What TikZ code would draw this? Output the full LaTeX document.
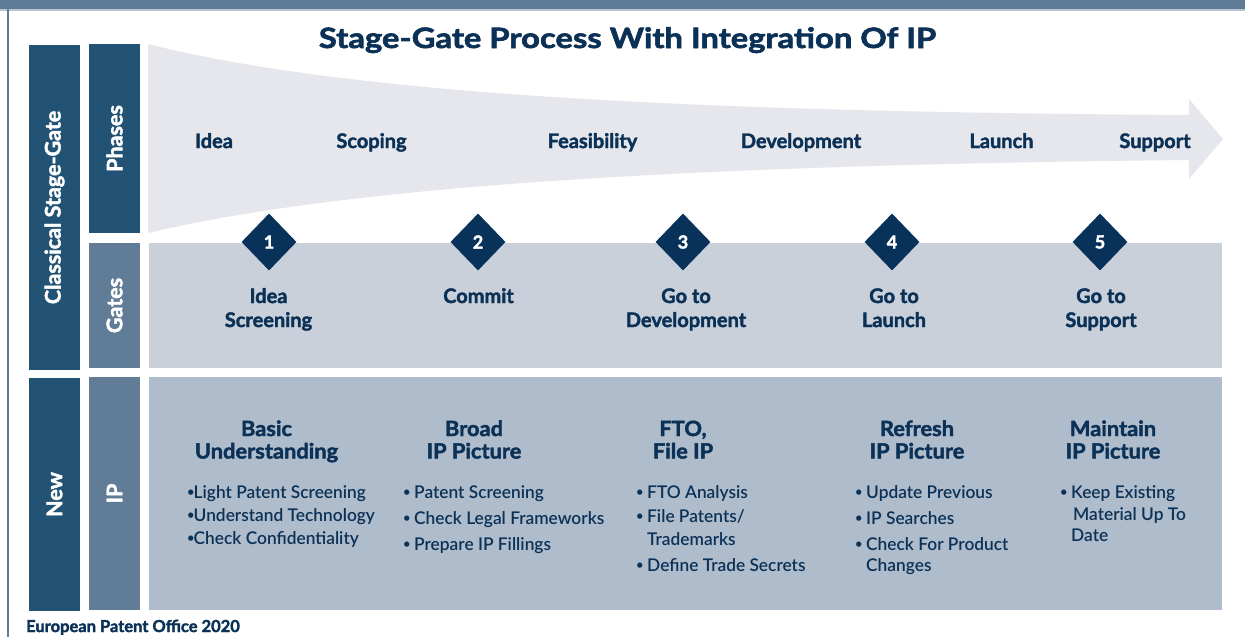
\documentclass[tikz,border=0pt]{standalone}
\usepackage{fontspec}
\setmainfont{Lato}
\newfontfamily\semifont{Lato Semibold}[FakeStretch=0.99]
\newfontfamily\hv{Lato Bold}[FakeBold=2]
\newfontfamily\hvh{Lato Bold}[FakeBold=2, FakeStretch=1.04]
\newfontfamily\hvt{Lato Bold}[FakeBold=2.2, FakeStretch=1.17]
\usetikzlibrary{shapes.geometric}
\definecolor{topbar}{HTML}{5F7B96}
\definecolor{darkbox}{HTML}{235374}
\definecolor{midbox}{HTML}{607C97}
\definecolor{arrowc}{HTML}{E6E7ED}
\definecolor{gateband}{HTML}{C9D0DA}
\definecolor{ipband}{HTML}{AFBCCB}
\definecolor{navy}{HTML}{0B3156}
\definecolor{dia}{HTML}{08325A}
\definecolor{lightline}{HTML}{B8C4D2}
\newcommand\twoc[2]{\begin{tabular}[t]{@{}c@{}}#1\\#2\end{tabular}}
\newcommand\dotb{\raisebox{1.6pt}{\fontsize{13}{13}\selectfont•}}
\newcommand\bl{\makebox[11pt][l]{\dotb}}
\newcommand\blt{\makebox[6.5pt][l]{\dotb}}
\newcommand\ind{\hspace*{11pt}}
\begin{document}
\begin{tikzpicture}[x=1pt,y=-1pt,
  sidebox/.style={rotate=90, inner sep=0pt, text=white,
    font=\hv\fontsize{21.5}{24}\selectfont},
  band/.style={inner sep=0pt, anchor=north west},
  lbl/.style={inner sep=0pt, anchor=base, text=navy,
    font=\hv\fontsize{20}{24}\selectfont},
  hdr/.style={inner sep=0pt, anchor=base, text=navy,
    font=\hvh\fontsize{21}{22.5}\selectfont},
  bul/.style={inner sep=0pt, anchor=base west, text=navy,
    font=\semifont\fontsize{17.5}{22}\selectfont},
  gate/.style={shape=diamond, fill=dia, inner sep=0pt,
    minimum width=55pt, minimum height=57pt, text=white,
    font=\hv\fontsize{18}{20}\selectfont}
]
\useasboundingbox (0,0) rectangle (1245,637);
\fill[white] (0,0) rectangle (1245,637);
% frame
\fill[topbar] (0,0) rectangle (1245,9);
\fill[lightline] (0,9) rectangle (1245,10.5);
\fill[topbar] (6.8,9) rectangle (9.3,637);
% arrow
\fill[arrowc] (148,44) .. controls (350,95) and (700,112) .. (1189,115)
  -- (1189,99) -- (1223,139) -- (1189,179) -- (1189,160)
  .. controls (700,165) and (350,185) .. (148,233) -- cycle;
% side boxes
\node[sidebox, fill=darkbox, minimum width=325pt, minimum height=51pt] (csg) at (54.5,207.5) {Classical Stage-Gate};
\node[sidebox, fill=darkbox, minimum width=189pt, minimum height=51pt] (phases) at (114.5,138.5) {Phases};
\node[sidebox, fill=midbox, minimum width=125pt, minimum height=51pt] (gates) at (114.5,305.5) {Gates};
\node[sidebox, fill=darkbox, minimum width=233pt, minimum height=51pt] (new) at (54.5,494.5) {New};
\node[sidebox, fill=midbox, minimum width=233pt, minimum height=51pt] (ip) at (114.5,493.5) {IP};
% bands
\node[band, fill=gateband, minimum width=1073pt, minimum height=125pt] (gband) at (149,243) {};
\node[band, fill=ipband, minimum width=1073pt, minimum height=233pt] (iband) at (149,377) {};
% title
\node[inner sep=0pt, anchor=base, text=navy, font=\hvt\fontsize{28}{30}\selectfont] (title) at (627.5,48) {Stage-Gate Process With Integration Of IP};
% phases
\node[lbl] (p1) at (214,148) {Idea};
\node[lbl] (p2) at (371.5,148) {Scoping};
\node[lbl] (p3) at (592.5,148) {Feasibility};
\node[lbl] (p4) at (801,148) {Development};
\node[lbl] (p5) at (1001.5,148) {Launch};
\node[lbl] (p6) at (1155,148) {Support};
% gates
\node[gate] (g1) at (269,242) {1};
\node[gate] (g2) at (478,242) {2};
\node[gate] (g3) at (683,242) {3};
\node[gate] (g4) at (892,242) {4};
\node[gate] (g5) at (1100,242) {5};
\node[lbl] (gl1) at (268.5,303) {\twoc{Idea}{Screening}};
\node[lbl] (gl2) at (478.5,303) {Commit};
\node[lbl] (gl3) at (686,303) {\twoc{Go to}{Development}};
\node[lbl] (gl4) at (894,303) {\twoc{Go to}{Launch}};
\node[lbl] (gl5) at (1101,303) {\twoc{Go to}{Support}};
% IP headers
\node[hdr] (h1) at (266.5,436) {\twoc{Basic}{Understanding}};
\node[hdr] (h2) at (474,436) {\twoc{Broad}{IP Picture}};
\node[hdr] (h3) at (683,436) {\twoc{FTO,}{File IP}};
\node[hdr] (h4) at (917,436) {\twoc{Refresh}{IP Picture}};
\node[hdr] (h5) at (1113,436) {\twoc{Maintain}{IP Picture}};
% bullets
\node[bul] (b1) at (187,498) {\begin{tabular}[t]{@{}l@{}}\blt Light Patent Screening\\[1pt]\blt Understand Technology\\[1pt]\blt Check Confidentiality\end{tabular}};
\node[bul] (b2) at (403,498) {\begin{tabular}[t]{@{}l@{}}\bl Patent Screening\\[4pt]\bl Check Legal Frameworks\\[4pt]\bl Prepare IP Fillings\end{tabular}};
\node[bul] (b3) at (636,498) {\begin{tabular}[t]{@{}l@{}}\bl FTO Analysis\\[2pt]\bl File Patents/\\[1pt]\ind Trademarks\\[4pt]\bl Define Trade Secrets\end{tabular}};
\node[bul] (b4) at (855,498) {\begin{tabular}[t]{@{}l@{}}\bl Update Previous\\[4pt]\bl IP Searches\\[4pt]\bl Check For Product\\[-1pt]\ind Changes\end{tabular}};
\node[bul] (b5) at (1060,498) {\begin{tabular}[t]{@{}l@{}}\bl Keep Existing\\[0pt]\ind\hspace{2pt}Material Up To\\[-1pt]\ind Date\end{tabular}};
% footer
\node[inner sep=0pt, anchor=base west, text=navy, font=\hv\fontsize{16.5}{18}\selectfont] (foot) at (26,632) {European Patent Office 2020};
\end{tikzpicture}
\end{document}
